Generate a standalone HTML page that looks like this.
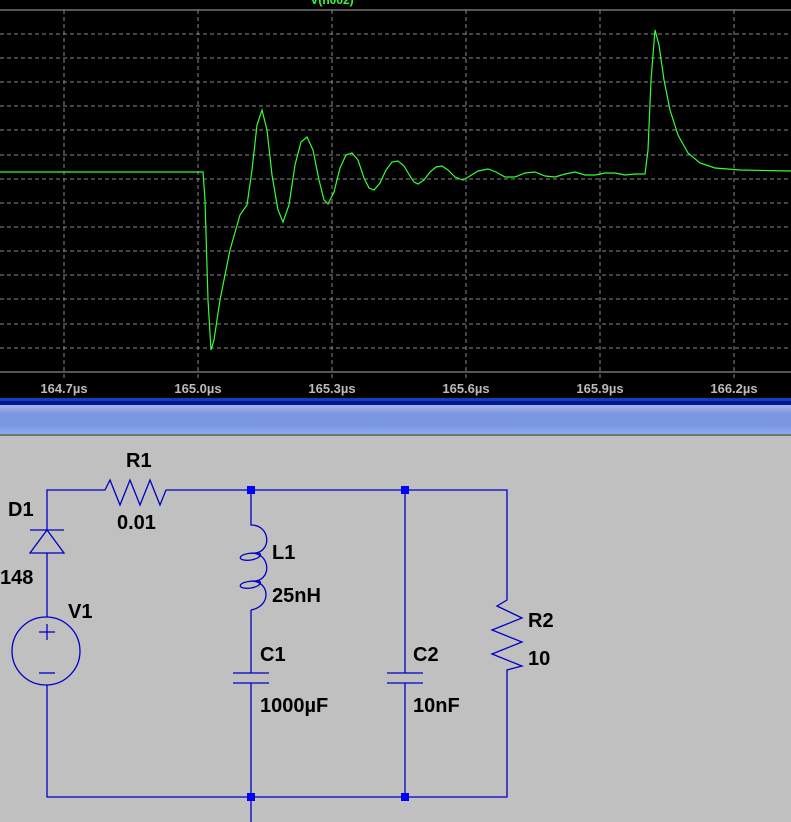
<!DOCTYPE html>
<html><head><meta charset="utf-8"><style>
html,body{margin:0;padding:0;width:791px;height:822px;overflow:hidden;background:#c0c0c0}
svg{display:block}
</style></head><body>
<svg width="791" height="822" viewBox="0 0 791 822" xmlns="http://www.w3.org/2000/svg">
<defs>
<linearGradient id="bg" x1="0" y1="0" x2="0" y2="1">
<stop offset="0" stop-color="#a8b8e8"/><stop offset="0.3" stop-color="#7c95e0"/><stop offset="0.7" stop-color="#7a98e2"/><stop offset="1" stop-color="#8eaaf0"/>
</linearGradient>
</defs>
<rect x="0" y="0" width="791" height="399" fill="#000"/>
<text x="332" y="4" fill="#3f3" font-family="Liberation Sans, sans-serif" font-size="12" font-weight="bold" text-anchor="middle">V(n002)</text>
<line x1="0" y1="10" x2="791" y2="10" stroke="#aaa" stroke-width="1"/>
<line x1="0" y1="372" x2="791" y2="372" stroke="#aaa" stroke-width="1"/>
<g stroke="#888" stroke-width="1" stroke-dasharray="4,3">
<line x1="0" y1="34" x2="791" y2="34"/><line x1="0" y1="58" x2="791" y2="58"/><line x1="0" y1="82" x2="791" y2="82"/><line x1="0" y1="106" x2="791" y2="106"/><line x1="0" y1="130" x2="791" y2="130"/><line x1="0" y1="155" x2="791" y2="155"/><line x1="0" y1="179" x2="791" y2="179"/><line x1="0" y1="203" x2="791" y2="203"/><line x1="0" y1="227" x2="791" y2="227"/><line x1="0" y1="251" x2="791" y2="251"/><line x1="0" y1="275" x2="791" y2="275"/><line x1="0" y1="299" x2="791" y2="299"/><line x1="0" y1="324" x2="791" y2="324"/><line x1="0" y1="348" x2="791" y2="348"/>
<line x1="64" y1="10" x2="64" y2="378"/><line x1="198" y1="10" x2="198" y2="378"/><line x1="332" y1="10" x2="332" y2="378"/><line x1="466" y1="10" x2="466" y2="378"/><line x1="600" y1="10" x2="600" y2="378"/><line x1="734" y1="10" x2="734" y2="378"/>
</g>
<path fill="none" stroke="#3f3" stroke-width="1.2" d="M0 172 L203 172 L205 200 L208 300 L211 350 L214 340 L220 300 L230 250 L240 215 L247 205 L252 170 L257 125 L262 110 L267 130 L272 175 L278 210 L283 222 L289 205 L295 165 L301 142 L307 137 L313 150 L319 180 L324 200 L328 204 L334 192 L340 168 L346 155 L352 153 L358 160 L364 178 L369 188 L374 190 L380 183 L386 170 L392 162 L398 161 L404 166 L410 176 L414 182 L418 184 L424 180 L430 172 L436 167 L442 166 L448 170 L455 177 L463 180 L470 176 L478 171 L488 169 L496 172 L505 177 L515 177 L525 173 L535 172 L545 176 L555 177 L565 174 L575 172 L585 175 L595 175 L605 173 L615 173 L625 175 L635 174 L645 174 L648 150 L651 80 L655 30 L659 45 L664 80 L670 110 L678 135 L688 153 L700 163 L715 168 L740 170 L791 171"/>
<g fill="#bbb" font-family="Liberation Sans, sans-serif" font-size="13" font-weight="bold" text-anchor="middle">
<text x="64" y="393">164.7µs</text><text x="198" y="393">165.0µs</text><text x="332" y="393">165.3µs</text><text x="466" y="393">165.6µs</text><text x="600" y="393">165.9µs</text><text x="734" y="393">166.2µs</text>
</g>
<rect x="0" y="398" width="791" height="3" fill="#1040c0"/>
<rect x="0" y="401" width="791" height="4" fill="#001890"/>
<rect x="0" y="405" width="791" height="29" fill="url(#bg)"/>
<rect x="0" y="434" width="791" height="2" fill="#6a7a6a"/>
<g stroke="#0000c8" stroke-width="1.3" fill="none">
<path d="M47 530 L47 490 L105 490 L110 480 L120 505 L130 480 L140 505 L150 480 L160 505 L166 490 L175 490 L507 490 L507 600 L497 606 L522 618 L492 630 L522 642 L492 654 L522 666 L507 670 L507 797 L47 797 L47 685"/>
<path d="M47 617 L47 553"/>
<line x1="30" y1="530" x2="64" y2="530"/>
<path d="M47 530 L30 553 L64 553 Z"/>
<circle cx="46" cy="651" r="34"/>
<line x1="39" y1="632" x2="55" y2="632"/><line x1="47" y1="624" x2="47" y2="640"/>
<line x1="39" y1="673" x2="55" y2="673"/>
<path d="M251 490 L251 525 C270 525 272 550 256 553 M251 553 C270 553 272 578 256 581 M251 581 C270 581 272 606 251 610"/>
<path d="M256 553 C236 553 236 562 251 560 C262 558 263 552 256 553 M256 581 C236 581 236 590 251 588 C262 586 263 580 256 581"/>
<line x1="251" y1="610" x2="251" y2="673"/><line x1="233" y1="673" x2="269" y2="673"/><line x1="233" y1="683" x2="269" y2="683"/><line x1="251" y1="683" x2="251" y2="822"/>
<line x1="405" y1="490" x2="405" y2="673"/><line x1="387" y1="673" x2="423" y2="673"/><line x1="387" y1="683" x2="423" y2="683"/><line x1="405" y1="683" x2="405" y2="797"/>
</g>
<g fill="#0000ff">
<rect x="247" y="486" width="8" height="8"/><rect x="401" y="486" width="8" height="8"/><rect x="247" y="793" width="8" height="8"/><rect x="401" y="793" width="8" height="8"/>
</g>
<g fill="#000" font-family="Liberation Sans, sans-serif" font-size="20" font-weight="bold">
<text x="126" y="467">R1</text><text x="117" y="529">0.01</text>
<text x="8" y="516">D1</text><text x="0" y="584">148</text>
<text x="68" y="618">V1</text>
<text x="272" y="559">L1</text><text x="272" y="602">25nH</text>
<text x="260" y="661">C1</text><text x="260" y="712">1000µF</text>
<text x="413" y="661">C2</text><text x="413" y="712">10nF</text>
<text x="528" y="627">R2</text><text x="528" y="665">10</text>
</g>
</svg>
</body></html>
